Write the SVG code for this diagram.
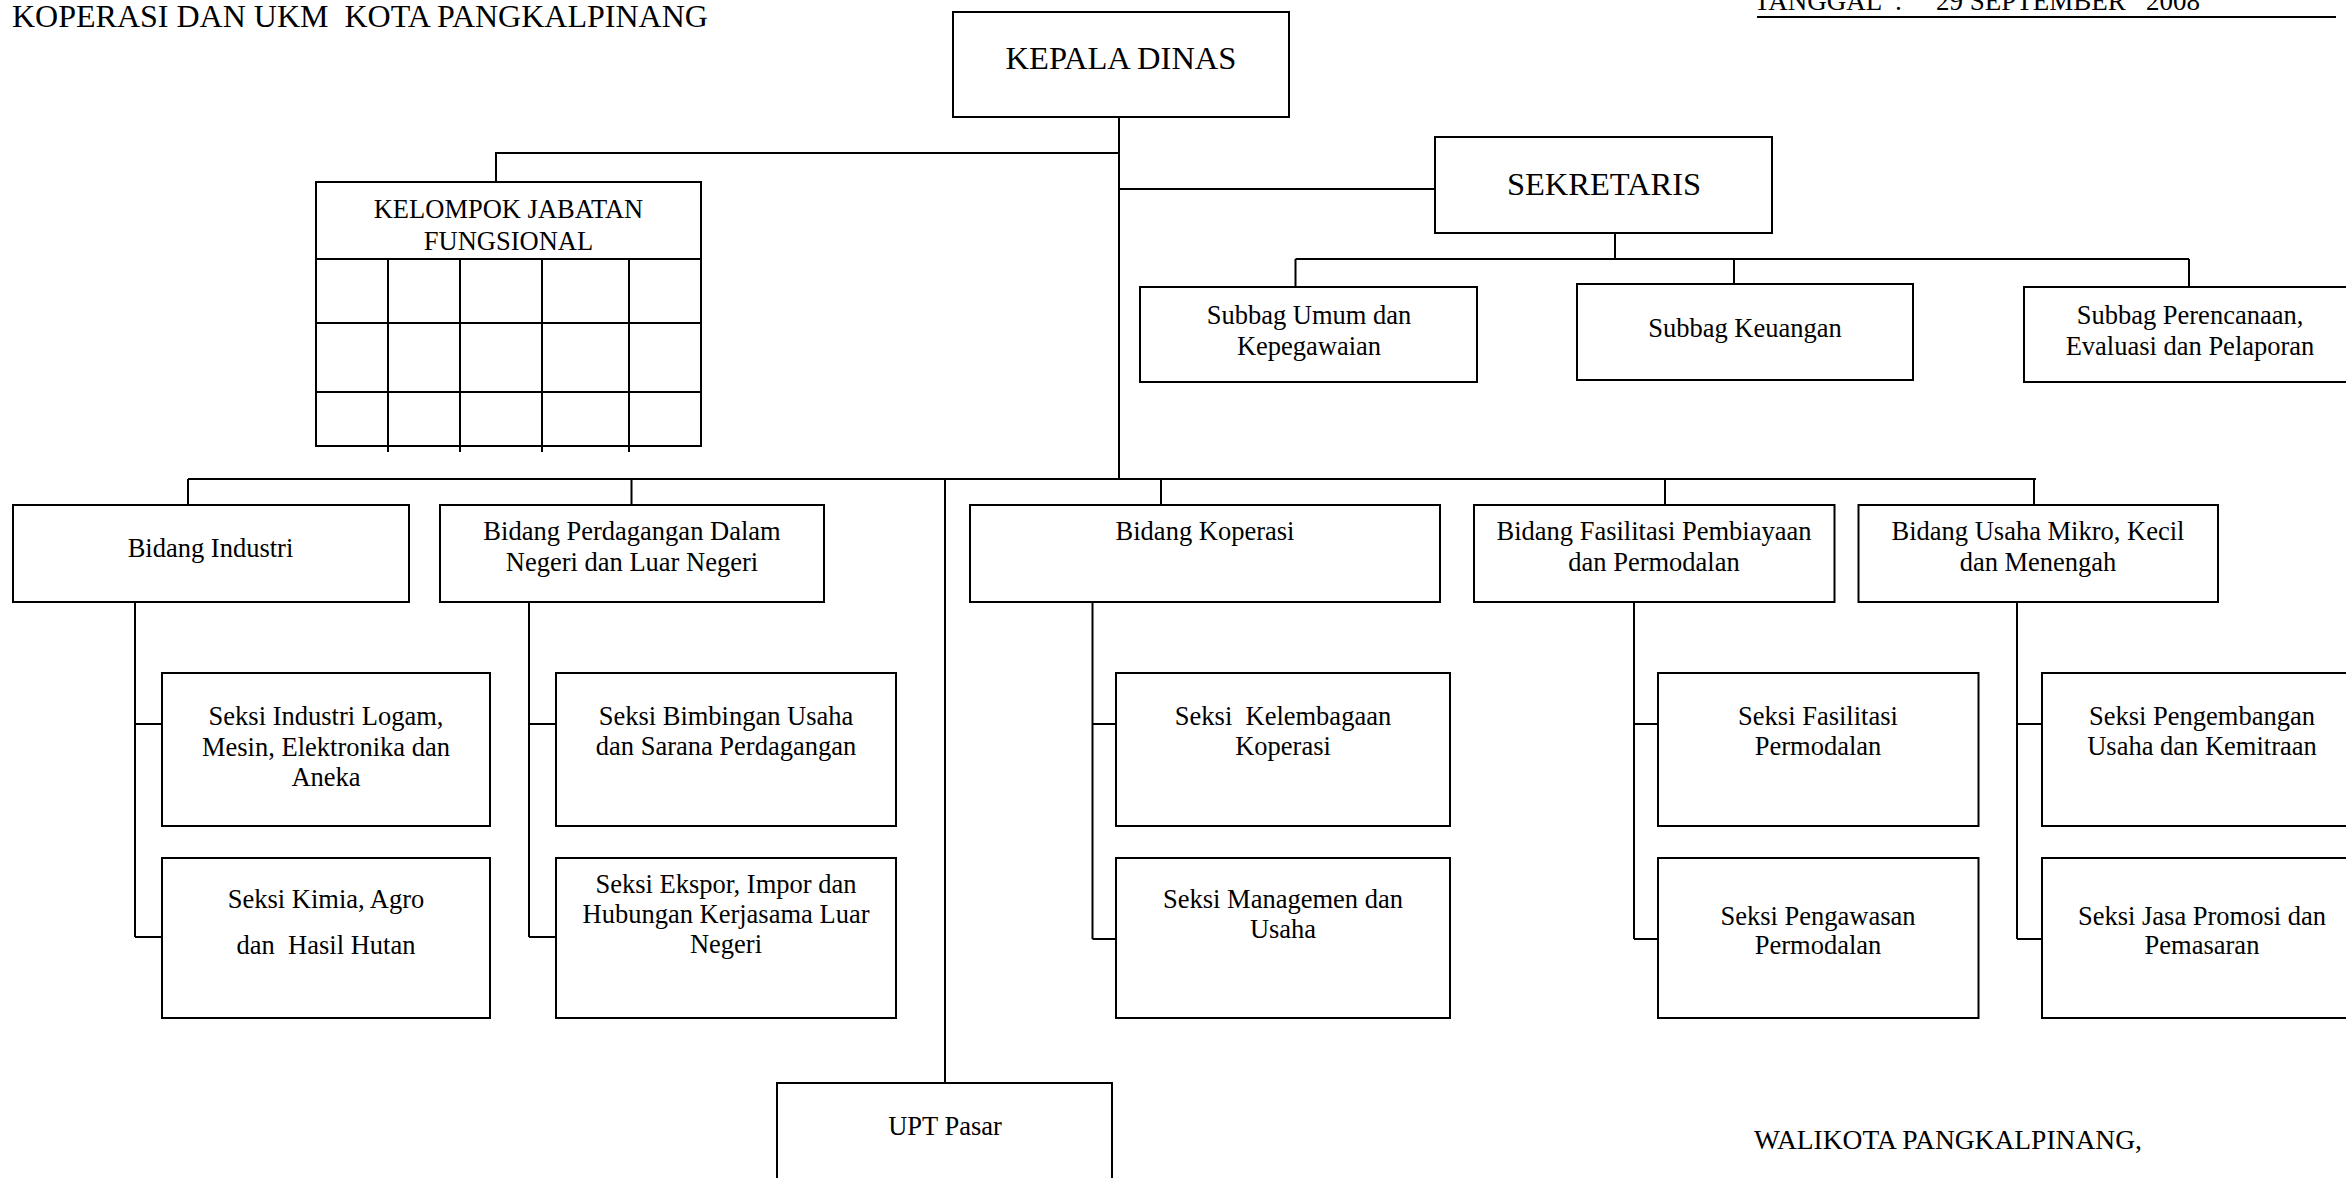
<svg xmlns="http://www.w3.org/2000/svg" width="2346" height="1178" viewBox="0 0 2346 1178">
<style>
.bx{fill:#fff;stroke:#000;stroke-width:2}
.ln{stroke:#000;stroke-width:2;fill:none}
.t{font-family:"Liberation Serif","Times New Roman",serif;font-size:26.5px;fill:#000;text-anchor:middle;white-space:pre}
.big{font-size:32.5px}
.l{text-anchor:start}
</style>
<rect width="2346" height="1178" fill="#fff"/>
<text class="t l" x="12" y="27" style="font-size:32px">KOPERASI DAN UKM  KOTA PANGKALPINANG</text>
<text class="t l" x="1754" y="10" style="font-size:27px">TANGGAL  :     29 SEPTEMBER   2008</text>
<line class="ln" x1="1757" y1="17" x2="2336" y2="17"/>
<g id="connectors" class="ln">
<path d="M1119 117V479M496 182V153H1119M1119 189H1435"/>
<path d="M1615 233V259M1295.5 259H2189M1295.5 259V287M1734 259V284M2189 259V287"/>
<path d="M188 479H2036M188 479V505M631.5 479V505M945 479V1083M1161 479V505M1665 479V505M2034 479V505"/>
<path d="M135 602V937M135 724H162M135 937H162"/>
<path d="M529 602V937M529 724H556M529 937H556"/>
<path d="M1092.5 602V939M1092.5 724H1116M1092.5 939H1116"/>
<path d="M1634 602V939M1634 724H1658M1634 939H1658"/>
<path d="M2017 602V939M2017 724H2042M2017 939H2042"/>
</g>
<g id="kepala"><rect class="bx" x="953" y="12" width="336" height="105"/><text class="t big" x="1121" y="69">KEPALA DINAS</text></g>
<g id="kelompok"><rect class="bx" x="316" y="182" width="385" height="264"/>
<path class="ln" d="M316 259H701M316 323H701M316 392H701M388 259V452M460 259V452M542 259V452M629 259V452"/>
<text class="t" x="508.5" y="218">KELOMPOK JABATAN</text><text class="t" x="508.5" y="250">FUNGSIONAL</text></g>
<g id="sekretaris"><rect class="bx" x="1435" y="137" width="337" height="96"/><text class="t big" x="1604" y="195">SEKRETARIS</text></g>
<g id="subbag-umum"><rect class="bx" x="1140" y="287" width="337" height="95"/><text class="t" x="1309" y="324">Subbag Umum dan</text><text class="t" x="1309" y="355">Kepegawaian</text></g>
<g id="subbag-keuangan"><rect class="bx" x="1577" y="284" width="336" height="96"/><text class="t" x="1745" y="337">Subbag Keuangan</text></g>
<g id="subbag-perencanaan"><rect class="bx" x="2024" y="287" width="332" height="95"/><text class="t" x="2190" y="324">Subbag Perencanaan,</text><text class="t" x="2190" y="355">Evaluasi dan Pelaporan</text></g>
<g id="bidang-industri"><rect class="bx" x="13" y="505" width="396" height="97"/><text class="t" x="210.5" y="557">Bidang Industri</text></g>
<g id="bidang-perdagangan"><rect class="bx" x="440" y="505" width="384" height="97"/><text class="t" x="632" y="540">Bidang Perdagangan Dalam</text><text class="t" x="632" y="571">Negeri dan Luar Negeri</text></g>
<g id="bidang-koperasi"><rect class="bx" x="970" y="505" width="470" height="97"/><text class="t" x="1205" y="540">Bidang Koperasi</text></g>
<g id="bidang-fasilitasi"><rect class="bx" x="1474" y="505" width="360.5" height="97"/><text class="t" x="1654" y="540">Bidang Fasilitasi Pembiayaan</text><text class="t" x="1654" y="571">dan Permodalan</text></g>
<g id="bidang-umkm"><rect class="bx" x="1858.5" y="505" width="359.5" height="97"/><text class="t" x="2038" y="540">Bidang Usaha Mikro, Kecil</text><text class="t" x="2038" y="571">dan Menengah</text></g>
<g id="seksi-logam"><rect class="bx" x="162" y="673" width="328" height="153"/><text class="t" x="326" y="725">Seksi Industri Logam,</text><text class="t" x="326" y="755.5">Mesin, Elektronika dan</text><text class="t" x="326" y="786">Aneka</text></g>
<g id="seksi-kimia"><rect class="bx" x="162" y="858" width="328" height="160"/><text class="t" x="326" y="908">Seksi Kimia, Agro</text><text class="t" x="326" y="954">dan  Hasil Hutan</text></g>
<g id="seksi-bimbingan"><rect class="bx" x="556" y="673" width="340" height="153"/><text class="t" x="726" y="725">Seksi Bimbingan Usaha</text><text class="t" x="726" y="755">dan Sarana Perdagangan</text></g>
<g id="seksi-ekspor"><rect class="bx" x="556" y="858" width="340" height="160"/><text class="t" x="726" y="893">Seksi Ekspor, Impor dan</text><text class="t" x="726" y="923">Hubungan Kerjasama Luar</text><text class="t" x="726" y="953">Negeri</text></g>
<g id="seksi-kelembagaan"><rect class="bx" x="1116" y="673" width="334" height="153"/><text class="t" x="1283" y="725">Seksi  Kelembagaan</text><text class="t" x="1283" y="755">Koperasi</text></g>
<g id="seksi-managemen"><rect class="bx" x="1116" y="858" width="334" height="160"/><text class="t" x="1283" y="908">Seksi Managemen dan</text><text class="t" x="1283" y="938">Usaha</text></g>
<g id="seksi-fasilitasi"><rect class="bx" x="1658" y="673" width="320.5" height="153"/><text class="t" x="1818" y="725">Seksi Fasilitasi</text><text class="t" x="1818" y="755">Permodalan</text></g>
<g id="seksi-pengawasan"><rect class="bx" x="1658" y="858" width="320.5" height="160"/><text class="t" x="1818" y="925">Seksi Pengawasan</text><text class="t" x="1818" y="954">Permodalan</text></g>
<g id="seksi-pengembangan"><rect class="bx" x="2042" y="673" width="321" height="153"/><text class="t" x="2202" y="725">Seksi Pengembangan</text><text class="t" x="2202" y="755">Usaha dan Kemitraan</text></g>
<g id="seksi-jasa"><rect class="bx" x="2042" y="858" width="321" height="160"/><text class="t" x="2202" y="925">Seksi Jasa Promosi dan</text><text class="t" x="2202" y="954">Pemasaran</text></g>
<g id="upt-pasar"><rect class="bx" x="777" y="1083" width="335" height="120"/><text class="t" x="945" y="1135">UPT Pasar</text></g>
<text class="t l" x="1754" y="1149" style="font-size:27.5px">WALIKOTA PANGKALPINANG,</text>
</svg>
